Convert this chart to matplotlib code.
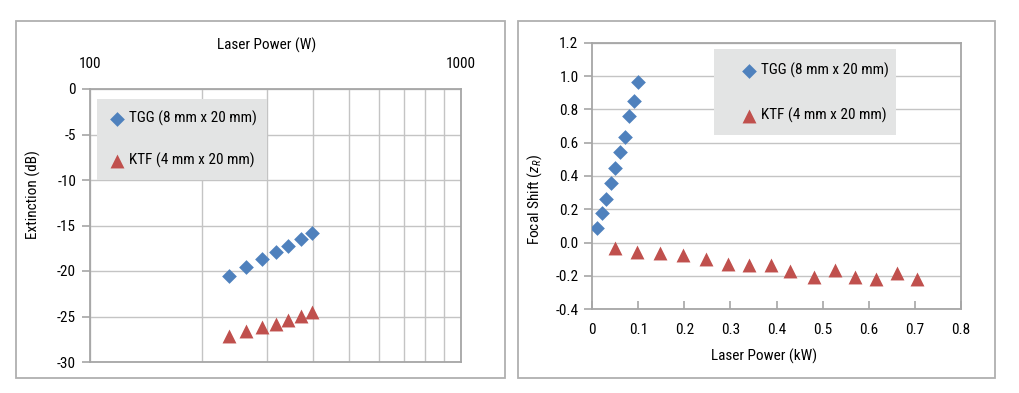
import matplotlib
matplotlib.use("Agg")
import matplotlib.pyplot as plt
from matplotlib import font_manager
from matplotlib.patches import Rectangle
from matplotlib.ticker import FixedLocator, FuncFormatter, NullFormatter

# pick a narrow font if one is around, otherwise fall back
installed = {f.name for f in font_manager.fontManager.ttflist}
narrow = [n for n in ['Liberation Sans Narrow', 'Roboto Condensed', 'DejaVu Sans Condensed',
                      'Open Sans Condensed', 'Roboto', 'Liberation Sans'] if n in installed]
base_font = narrow[0] if narrow else 'DejaVu Sans'
plt.rcParams['font.family'] = [base_font, 'DejaVu Sans']
plt.rcParams['axes.unicode_minus'] = False
plt.rcParams['mathtext.fontset'] = 'custom'
plt.rcParams['mathtext.rm'] = base_font
plt.rcParams['mathtext.it'] = base_font + ':italic'

# --- data: extinction vs laser power (left, log x) ---
ext_power_w = [237, 263, 290, 317, 342, 370, 397]
ext_tgg_db = [-20.6, -19.6, -18.7, -17.9, -17.2, -16.5, -15.8]
ext_ktf_db = [-27.1, -26.6, -26.2, -25.8, -25.4, -24.9, -24.5]

# --- data: focal shift vs laser power (right) ---
fs_tgg_kw = [0.01, 0.02, 0.03, 0.04, 0.05, 0.06, 0.07, 0.08, 0.09, 0.10]
fs_tgg_zr = [0.086, 0.176, 0.264, 0.36, 0.45, 0.546, 0.636, 0.76, 0.852, 0.966]
fs_ktf_kw = [0.05, 0.097, 0.148, 0.197, 0.246, 0.295, 0.34, 0.387, 0.429,
             0.481, 0.527, 0.571, 0.617, 0.661, 0.705]
fs_ktf_zr = [-0.03, -0.059, -0.06, -0.076, -0.10, -0.126, -0.136, -0.136, -0.168,
             -0.204, -0.166, -0.204, -0.216, -0.182, -0.218]

tgg_label = "TGG (8 mm x 20 mm)"
ktf_label = "KTF (4 mm x 20 mm)"

blue = '#4f81bd'
red = '#c0504d'
spine_c = '#a6a6a6'
grid_c = '#c4c4c4'
legend_bg = '#e3e4e4'
fs = 11 if base_font in ('Liberation Sans Narrow', 'Roboto Condensed', 'DejaVu Sans Condensed',
                         'Open Sans Condensed') else 10

fig = plt.figure(figsize=(10.2, 3.93), dpi=100)

# outer panel frames
fig.add_artist(Rectangle((16 / 1020, 15 / 393), 489 / 1020, 357 / 393,
                         transform=fig.transFigure, fill=False,
                         edgecolor='#b0b0b0', lw=1.3))
fig.add_artist(Rectangle((518 / 1020, 15 / 393), 477 / 1020, 357 / 393,
                         transform=fig.transFigure, fill=False,
                         edgecolor='#b0b0b0', lw=1.3))

# ---------------- left panel ----------------
ax1 = fig.add_axes([90 / 1020, 31 / 393, 371 / 1020, 273 / 393])
ax1.set_axisbelow(True)
ax1.scatter(ext_power_w, ext_tgg_db, marker='D', s=7.5 ** 2, color=blue,
            label=tgg_label, zorder=3, linewidths=0)
ax1.scatter(ext_power_w, ext_ktf_db, marker='^', s=10 ** 2, color=red,
            label=ktf_label, zorder=3, linewidths=0)
ax1.set_xscale('log')
ax1.set_xlim(100, 1000)
ax1.set_ylim(-30, 0)
ax1.set_yticks(range(-30, 1, 5))
ax1.xaxis.tick_top()
ax1.xaxis.set_label_position('top')
ax1.xaxis.set_major_locator(FixedLocator([100, 1000]))
ax1.xaxis.set_major_formatter(FuncFormatter(lambda v, p: f"{int(v)}"))
ax1.xaxis.set_minor_locator(FixedLocator(range(200, 1000, 100)))
ax1.xaxis.set_minor_formatter(NullFormatter())
ax1.grid(True, which='both', color=grid_c, lw=1.0)
ax1.tick_params(axis='x', which='both', length=0, pad=13, labelsize=fs)
ax1.tick_params(axis='y', length=6, color=spine_c, width=1.2, pad=4, labelsize=fs)
for lbl in ax1.get_xticklabels():
    lbl.set_x(lbl.get_position()[0])
for sp in ax1.spines.values():
    sp.set_color(spine_c)
    sp.set_linewidth(1.3)
ax1.set_xlabel("Laser Power (W)", fontsize=fs)
ax1.set_ylabel("Extinction (dB)", fontsize=fs)
ax1.xaxis.set_label_coords(0.477, 1.161)
ax1.xaxis.label.set_va('center')
ax1.yaxis.set_label_coords(-0.154, 0.612)
ax1.yaxis.label.set_va('center')

ax1.add_patch(Rectangle((0.019, 0.667), 0.458, 0.296, transform=ax1.transAxes,
                        facecolor=legend_bg, edgecolor='none', zorder=1))
ax1.legend(loc='upper left', bbox_to_anchor=(0.051, 0.92), frameon=False,
           fontsize=fs, borderpad=0, handlelength=1.0, handletextpad=0.3,
           labelspacing=1.75, borderaxespad=0)

# ---------------- right panel ----------------
ax2 = fig.add_axes([592.3 / 1020, 83.7 / 393, 368.4 / 1020, 266.6 / 393])
ax2.set_axisbelow(True)
ax2.scatter(fs_tgg_kw, fs_tgg_zr, marker='D', s=7.5 ** 2, color=blue,
            label=tgg_label, zorder=3, linewidths=0)
ax2.scatter(fs_ktf_kw, fs_ktf_zr, marker='^', s=10 ** 2, color=red,
            label=ktf_label, zorder=3, linewidths=0)
ax2.set_xlim(0, 0.8)
ax2.set_ylim(-0.4, 1.2)
ax2.set_xticks([i / 10 for i in range(9)])
ax2.set_yticks([i / 10 for i in range(-4, 13, 2)])
ax2.xaxis.set_major_formatter(FuncFormatter(lambda v, p: "0" if abs(v) < 1e-9 else f"{v:.1f}"))
ax2.yaxis.set_major_formatter(FuncFormatter(lambda v, p: f"{v:.1f}"))
ax2.grid(True, axis='y', color=grid_c, lw=1.0)
ax2.tick_params(axis='x', direction='in', length=6, color=spine_c, width=1.2,
                pad=10, labelsize=fs)
ax2.tick_params(axis='y', length=6, color=spine_c, width=1.2, pad=4, labelsize=fs)
for sp in ax2.spines.values():
    sp.set_color(spine_c)
    sp.set_linewidth(1.3)
ax2.set_xlabel("Laser Power (kW)", fontsize=fs)
ax2.set_ylabel("Focal Shift ($z_R$)", fontsize=fs)
ax2.xaxis.set_label_coords(0.466, -0.175)
ax2.xaxis.label.set_va('center')
ax2.yaxis.set_label_coords(-0.156, 0.41)
ax2.yaxis.label.set_va('center')

ax2.add_patch(Rectangle((0.330, 0.654), 0.494, 0.322, transform=ax2.transAxes,
                        facecolor=legend_bg, edgecolor='none', zorder=1))
ax2.legend(loc='upper left', bbox_to_anchor=(0.404, 0.925), frameon=False,
           fontsize=fs, borderpad=0, handlelength=1.0, handletextpad=0.3,
           labelspacing=1.95, borderaxespad=0)

fig.savefig("out.png", dpi=100)
